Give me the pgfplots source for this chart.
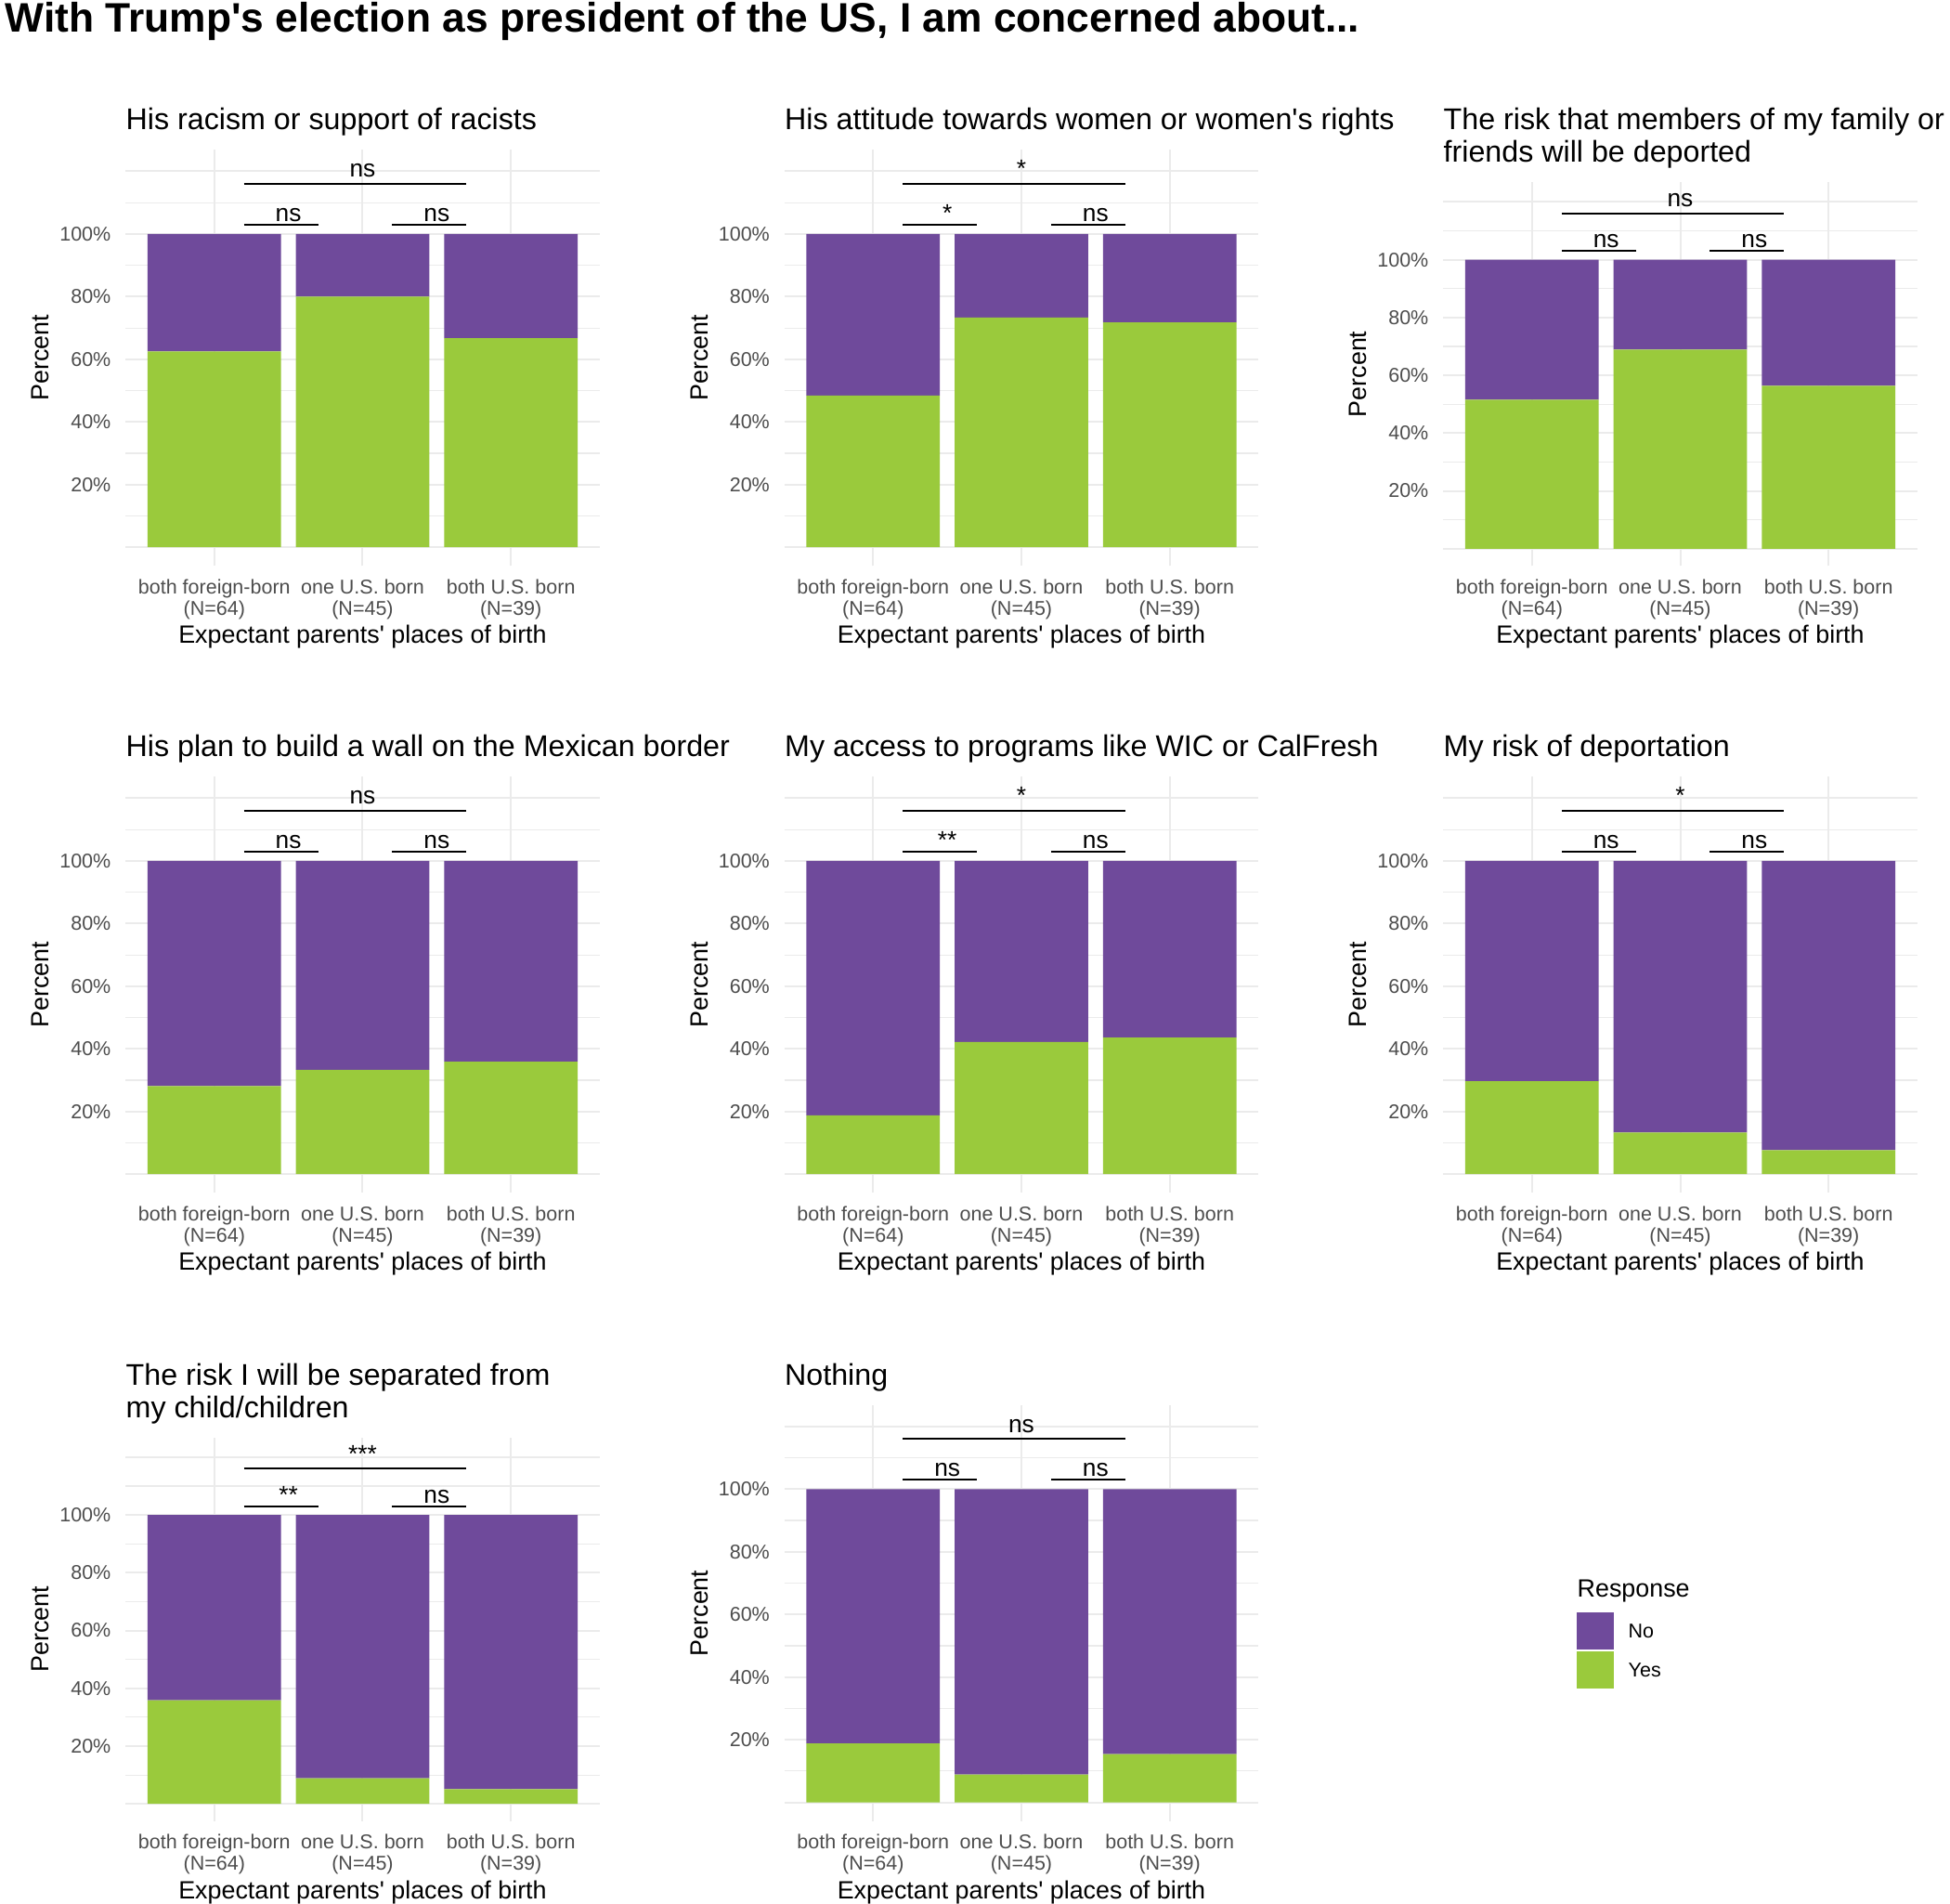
\documentclass[border=0pt]{standalone}
\usepackage{pgfplots}
\pgfplotsset{compat=1.18}
\usepackage{fontspec}
\setmainfont{Liberation Sans}
\definecolor{nocol}{HTML}{6F4A9B}
\definecolor{yescol}{HTML}{9ACA3C}
\definecolor{gridcol}{HTML}{EBEBEB}
\definecolor{axgray}{HTML}{4D4D4D}
\newcommand{\titlefont}{\fontsize{9.67}{11}\selectfont}
\newcommand{\sigfont}{\fontsize{7.9}{9}\selectfont}
\newcommand{\ptitle}[1]{\node[anchor=base west, inner sep=0pt, yshift=6.5pt, font=\titlefont] at (axis description cs:0,1) {#1};}
\newcommand{\ptitletwo}[2]{\node[anchor=base west, inner sep=0pt, yshift=16.9pt, font=\titlefont] at (axis description cs:0,1) {#1};
  \node[anchor=base west, inner sep=0pt, yshift=6.5pt, font=\titlefont] at (axis description cs:0,1) {#2};}
\newcommand{\sig}[3]{%
  \draw[line width=0.65pt] (axis cs:1.2,103) -- (axis cs:1.7,103);
  \draw[line width=0.65pt] (axis cs:2.2,103) -- (axis cs:2.7,103);
  \draw[line width=0.65pt] (axis cs:1.2,116) -- (axis cs:2.7,116);
  \node[anchor=base, inner sep=0pt, yshift=1pt, font=\sigfont] at (axis cs:1.5,103) {#1};
  \node[anchor=base, inner sep=0pt, yshift=1pt, font=\sigfont] at (axis cs:2.5,103) {#2};
  \node[anchor=base, inner sep=0pt, yshift=2.1pt, font=\sigfont] at (axis cs:2.0,116) {#3};}
\pgfplotsset{
  panel/.style={
    scale only axis, width=153.3pt,
    xmin=0.4, xmax=3.6, ymin=-6.0, ymax=126.8,
    ybar stacked, bar width=0.9,
    clip=false,
    axis line style={draw=none},
    major tick length=0pt, minor tick length=0pt,
    xtick={1,2,3},
    xticklabels={both foreign-born\\(N=64), one U.S. born\\(N=45), both U.S. born\\(N=39)},
    ytick={0,20,40,60,80,100,120},
    yticklabels={,20\%,40\%,60\%,80\%,100\%,},
    minor ytick={10,30,50,70,90,110},
    xmajorgrids, ymajorgrids, yminorgrids,
    major grid style={line width=0.6pt, color=gridcol},
    minor grid style={line width=0.35pt, color=gridcol},
    xticklabel style={anchor=north, inner sep=0pt, yshift=-4pt, align=center, font=\fontsize{6.45}{7}\selectfont, text=axgray},
    yticklabel style={anchor=east, inner sep=0pt, xshift=-4.5pt, font=\fontsize{6.45}{7}\selectfont, text=axgray},
    xlabel={Expectant parents\textquotesingle{} places of birth},
    ylabel={Percent},
    xlabel style={at={(axis description cs:0.5,0)}, anchor=base, yshift=-25pt, inner sep=0pt, font=\fontsize{8.06}{9}\selectfont},
    ylabel style={at={(axis description cs:-0.1787,0.5)}, anchor=center, inner sep=0pt, font=\fontsize{8.06}{9}\selectfont},
  },
  yes/.style={fill=yescol, draw=none},
  no/.style={fill=nocol, draw=none},
}
\begin{document}
\begin{tikzpicture}
\useasboundingbox (0pt,0pt) rectangle (630pt,615pt);
\node[anchor=base west, inner sep=0pt, font=\fontsize{13.3}{15}\selectfont\bfseries] at (1.5pt,604.5pt) {With Trump\textquotesingle s election as president of the US, I am concerned about...};

% Row 1
\begin{axis}[panel, at={(40.5pt,432.15pt)}, anchor=south west, height=134.4pt]
\addplot[yes] coordinates {(1,62.5) (2,80.0) (3,66.7)};
\addplot[no] coordinates {(1,37.5) (2,20.0) (3,33.3)};
\ptitle{His racism or support of racists}
\sig{ns}{ns}{ns}
\end{axis}

\begin{axis}[panel, at={(253.35pt,432.15pt)}, anchor=south west, height=134.4pt]
\addplot[yes] coordinates {(1,48.4) (2,73.3) (3,71.8)};
\addplot[no] coordinates {(1,51.6) (2,26.7) (3,28.2)};
\ptitle{His attitude towards women or women\textquotesingle s rights}
\sig{*}{ns}{*}
\end{axis}

\begin{axis}[panel, at={(466.2pt,432.15pt)}, anchor=south west, height=123.96pt]
\addplot[yes] coordinates {(1,51.6) (2,68.9) (3,56.4)};
\addplot[no] coordinates {(1,48.4) (2,31.1) (3,43.6)};
\ptitletwo{The risk that members of my family or}{friends will be deported}
\sig{ns}{ns}{ns}
\end{axis}

% Row 2
\begin{axis}[panel, at={(40.5pt,229.65pt)}, anchor=south west, height=134.4pt]
\addplot[yes] coordinates {(1,28.1) (2,33.3) (3,35.9)};
\addplot[no] coordinates {(1,71.9) (2,66.7) (3,64.1)};
\ptitle{His plan to build a wall on the Mexican border}
\sig{ns}{ns}{ns}
\end{axis}

\begin{axis}[panel, at={(253.35pt,229.65pt)}, anchor=south west, height=134.4pt]
\addplot[yes] coordinates {(1,18.8) (2,42.2) (3,43.6)};
\addplot[no] coordinates {(1,81.2) (2,57.8) (3,56.4)};
\ptitle{My access to programs like WIC or CalFresh}
\sig{**}{ns}{*}
\end{axis}

\begin{axis}[panel, at={(466.2pt,229.65pt)}, anchor=south west, height=134.4pt]
\addplot[yes] coordinates {(1,29.7) (2,13.3) (3,7.7)};
\addplot[no] coordinates {(1,70.3) (2,86.7) (3,92.3)};
\ptitle{My risk of deportation}
\sig{ns}{ns}{*}
\end{axis}

% Row 3
\begin{axis}[panel, at={(40.5pt,26.73pt)}, anchor=south west, height=123.96pt]
\addplot[yes] coordinates {(1,35.9) (2,8.9) (3,5.1)};
\addplot[no] coordinates {(1,64.1) (2,91.1) (3,94.9)};
\ptitletwo{The risk I will be separated from}{my child/children}
\sig{**}{ns}{***}
\end{axis}

\begin{axis}[panel, at={(253.35pt,26.73pt)}, anchor=south west, height=134.4pt]
\addplot[yes] coordinates {(1,18.8) (2,8.9) (3,15.4)};
\addplot[no] coordinates {(1,81.2) (2,91.1) (3,84.6)};
\ptitle{Nothing}
\sig{ns}{ns}{ns}
\end{axis}

% Legend
\node[anchor=base west, inner sep=0pt, font=\fontsize{8.06}{9}\selectfont] at (509.4pt,99.1pt) {Response};
\fill[nocol] (509.4pt,82.2pt) rectangle (521.4pt,94.2pt);
\fill[yescol] (509.4pt,69.6pt) rectangle (521.4pt,81.6pt);
\node[anchor=base west, inner sep=0pt, font=\fontsize{6.45}{7}\selectfont] at (525.9pt,85.9pt) {No};
\node[anchor=base west, inner sep=0pt, font=\fontsize{6.45}{7}\selectfont] at (525.9pt,73.3pt) {Yes};
\end{tikzpicture}
\end{document}
